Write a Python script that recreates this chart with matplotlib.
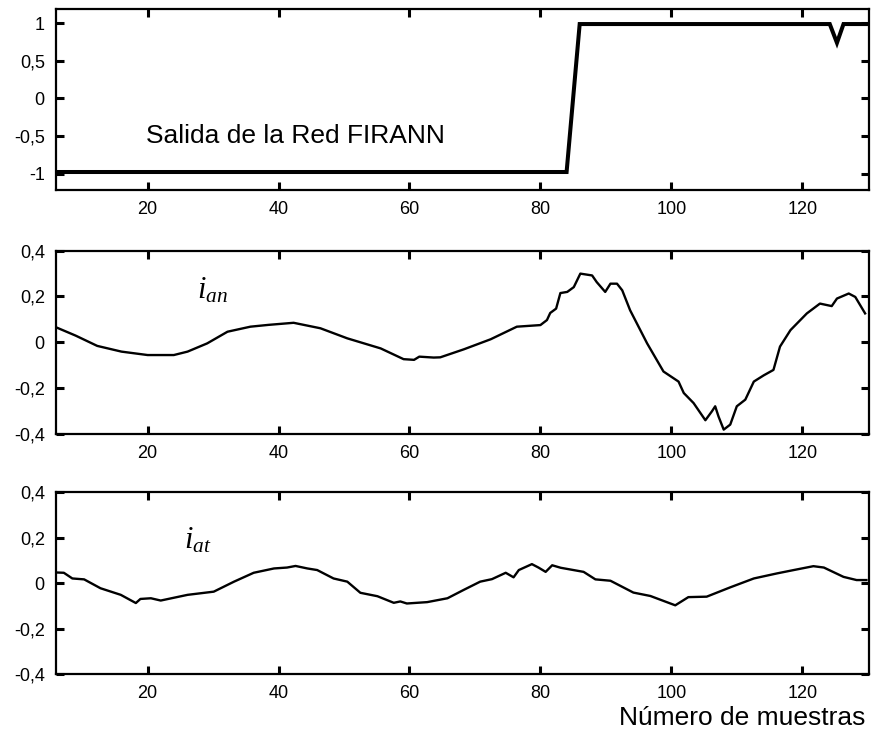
import numpy as np
import matplotlib
matplotlib.use("Agg")
import matplotlib.pyplot as plt
from matplotlib.ticker import FuncFormatter

plt.rcParams['font.family'] = ['Liberation Sans', 'DejaVu Sans']
plt.rcParams['mathtext.fontset'] = 'custom'
plt.rcParams['mathtext.it'] = 'Liberation Serif:italic'
plt.rcParams['mathtext.rm'] = 'Liberation Serif'

# salida de la red FIRANN
salida_x = [6, 84, 86, 124.2, 125.3, 126.3, 130]
salida_y = [-0.98, -0.98, 0.99, 0.99, 0.74, 0.99, 0.99]

# corriente i_an
ian_x = [6.2, 9, 12.3, 16, 20, 24, 26.1, 29.1, 32.2, 35.7, 38.5, 42.3, 46.4, 50.5, 55.6,
         59.1, 60.7, 61.5, 63.7, 64.7, 68.3, 72.4, 76.4, 80, 81, 81.5, 82.4, 83.05, 84.1,
         85.1, 86.1, 87.9, 88.6, 89.9, 90.7, 91.7, 92.5, 93.7, 96.3, 98.8, 101.1, 101.9,
         103.4, 105.2, 106.2, 106.7, 107.2, 108, 109, 110, 111.3, 112.6, 114.1, 115.6,
         116.6, 118.2, 120.7, 122.7, 124.5, 125.3, 127.1, 128.1, 129.6]
ian_y = [0.062, 0.028, -0.017, -0.042, -0.057, -0.057, -0.042, -0.006, 0.045, 0.067, 0.075,
         0.084, 0.06, 0.016, -0.028, -0.075, -0.078, -0.064, -0.068, -0.067, -0.032, 0.012,
         0.067, 0.074, 0.096, 0.127, 0.146, 0.214, 0.219, 0.24, 0.299, 0.291, 0.262, 0.219,
         0.255, 0.255, 0.226, 0.139, -0.006, -0.129, -0.173, -0.223, -0.267, -0.342, -0.303,
         -0.281, -0.325, -0.383, -0.361, -0.281, -0.252, -0.173, -0.146, -0.122, -0.02,
         0.052, 0.125, 0.168, 0.157, 0.19, 0.212, 0.197, 0.125]

# corriente i_at
iat_x = [6.3, 7.2, 8.5, 10.3, 12.8, 15.9, 18.2, 18.9, 20.5, 22, 26.1, 30.1, 33.2, 36.2,
         39.3, 41.3, 42.6, 44.4, 45.9, 48.4, 50.5, 52.5, 55.1, 57.6, 58.6, 59.6, 62.7, 65.8,
         68.3, 70.8, 72.6, 74.7, 75.9, 76.7, 78.7, 79.7, 80.8, 81.8, 83.1, 86.6, 88.4, 90.7,
         94.2, 96.8, 100.6, 102.6, 105.4, 109, 112.6, 116.1, 118.7, 121.7, 123.3, 126.3,
         128.3, 129.8]
iat_y = [0.046, 0.045, 0.02, 0.016, -0.023, -0.052, -0.088, -0.07, -0.067, -0.077, -0.052,
         -0.038, 0.006, 0.045, 0.064, 0.068, 0.075, 0.064, 0.057, 0.02, 0.006, -0.043, -0.058,
         -0.087, -0.081, -0.09, -0.084, -0.067, -0.03, 0.006, 0.017, 0.045, 0.025, 0.057,
         0.083, 0.068, 0.049, 0.078, 0.067, 0.049, 0.016, 0.01, -0.042, -0.057, -0.098,
         -0.062, -0.06, -0.019, 0.02, 0.042, 0.057, 0.074, 0.068, 0.027, 0.013, 0.013]

xticks = [20, 40, 60, 80, 100, 120]
coma = FuncFormatter(lambda v, p: ('%g' % round(v, 3)).replace('.', ','))

fig = plt.figure(figsize=(8.72, 7.34), dpi=100)
ax1 = fig.add_axes([0.0642, 0.7411, 0.9324, 0.2466])
ax2 = fig.add_axes([0.0642, 0.4094, 0.9324, 0.2493])
ax3 = fig.add_axes([0.0642, 0.0817, 0.9324, 0.2480])

ax1.plot(salida_x, salida_y, color='black', lw=2.9, solid_joinstyle='miter')
ax2.plot(ian_x, ian_y, color='black', lw=1.7, solid_joinstyle='round')
ax3.plot(iat_x, iat_y, color='black', lw=1.7, solid_joinstyle='round')

ax1.set_ylim(-1.22, 1.19)
ax1.set_yticks([-1, -0.5, 0, 0.5, 1])
for ax in (ax2, ax3):
    ax.set_ylim(-0.4, 0.4)
    ax.set_yticks([-0.4, -0.2, 0, 0.2, 0.4])

for ax in (ax1, ax2, ax3):
    ax.set_xlim(6, 130.2)
    ax.set_xticks(xticks)
    ax.yaxis.set_major_formatter(coma)
    ax.tick_params(direction='in', length=6, width=2.2, top=True, right=True,
                   labelsize=13, pad=8)
    for s in ax.spines.values():
        s.set_linewidth(1.6)

ax1.text(19.7, -0.5, 'Salida de la Red FIRANN', fontsize=19, va='center', ha='left')
ax2.text(27.5, 0.225, r'$i_{an}$', fontsize=22, va='center', ha='left')
ax3.text(25.5, 0.185, r'$i_{at}$', fontsize=22, va='center', ha='left')

fig.text(0.992, 1 - 718 / 734, 'Número de muestras', fontsize=19, ha='right', va='center')

plt.savefig('out.png', dpi=100)
